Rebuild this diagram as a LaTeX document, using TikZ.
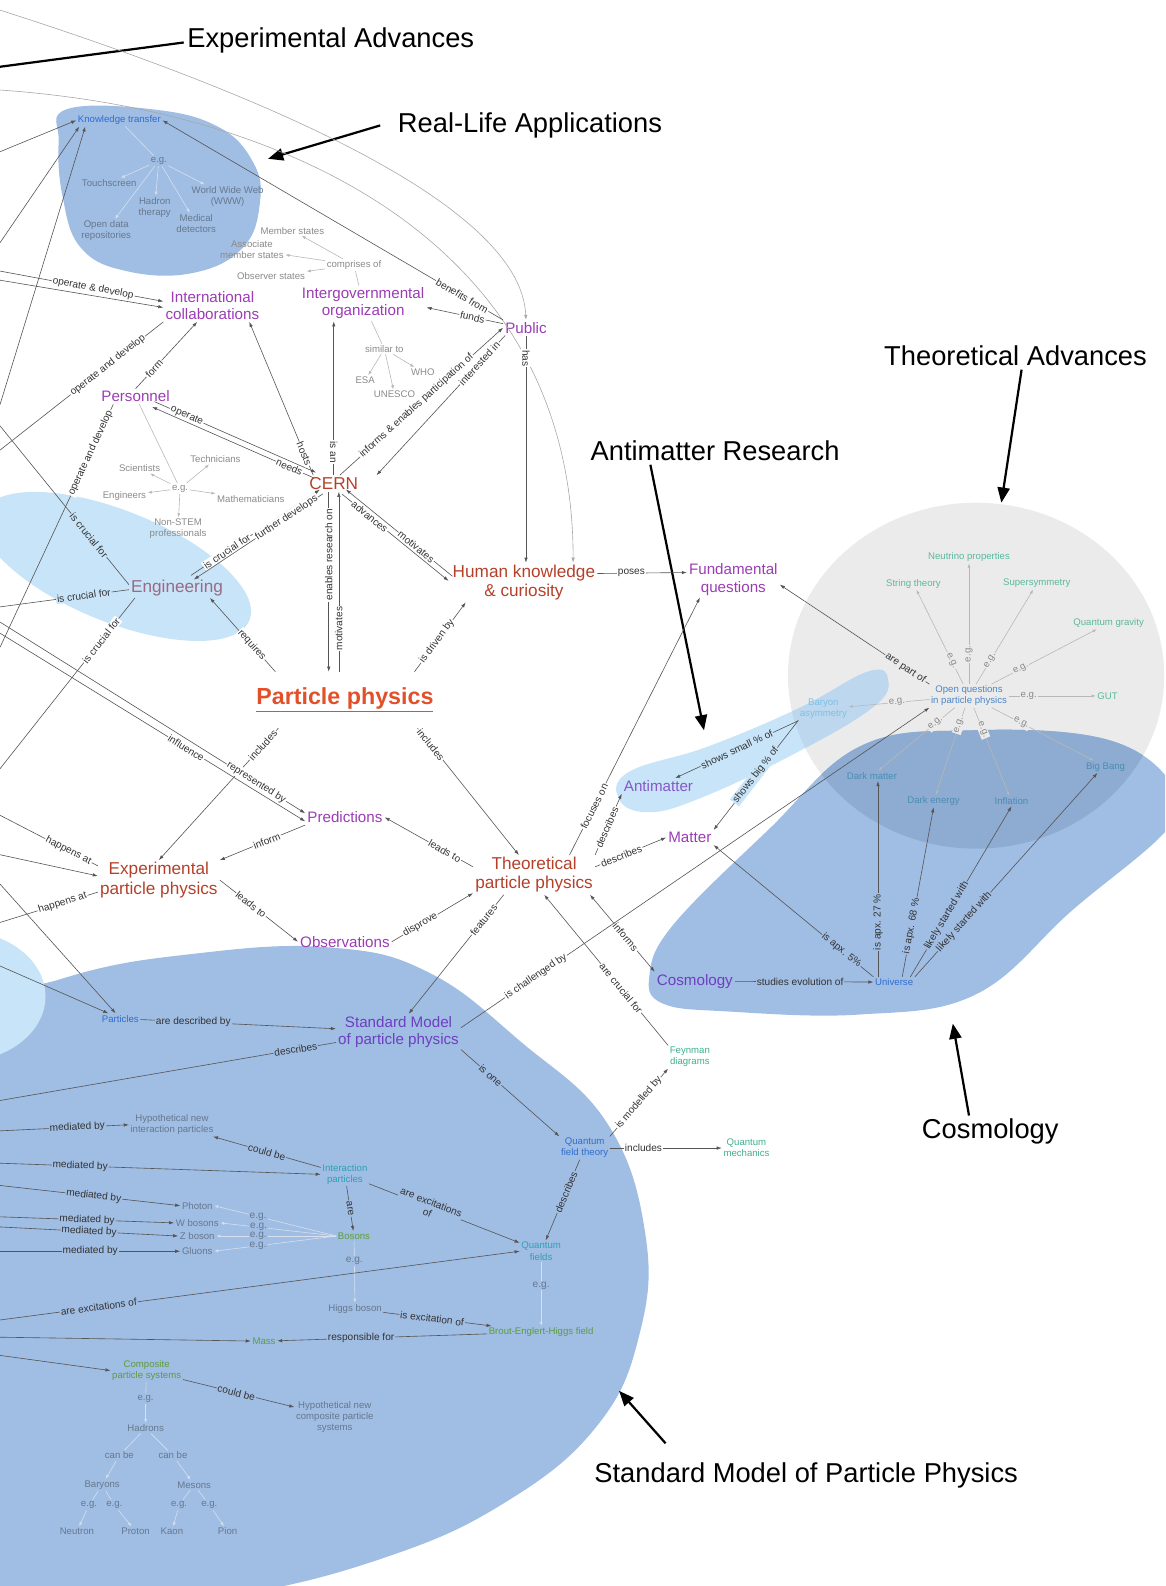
\documentclass[tikz,border=0pt]{standalone}
\usepackage{fontspec}
\setmainfont{Liberation Sans}
\usetikzlibrary{arrows.meta}

\definecolor{blobblue}{HTML}{A0BDE3}
\definecolor{blobpale}{HTML}{C8E4F8}
\definecolor{blobgray}{HTML}{EBEBEB}
\definecolor{blobover}{HTML}{8EABD1}
\definecolor{paleover}{HTML}{BDD8EE}
\definecolor{conred}{HTML}{B5402A}
\definecolor{pphys}{HTML}{E2502A}
\definecolor{conpurple}{HTML}{9B3CB4}
\definecolor{conviolet}{HTML}{6E3FC1}
\definecolor{conanti}{HTML}{8658C8}
\definecolor{conmauve}{HTML}{9A6A86}
\definecolor{conblue}{HTML}{2F6ECF}
\definecolor{conopen}{HTML}{4C86C6}
\definecolor{conteal}{HTML}{3DB08E}
\definecolor{conmint}{HTML}{5DB89E}
\definecolor{conaqua}{HTML}{2FA0B5}
\definecolor{consteel}{HTML}{4A8DB5}
\definecolor{consky}{HTML}{7DC0E6}
\definecolor{congreen}{HTML}{5E9C3F}
\definecolor{congray}{HTML}{8A8A8A}
\definecolor{congrayb}{HTML}{67788F}
\definecolor{linkgray}{HTML}{555555}
\definecolor{curvegray}{HTML}{A8A8A8}
\definecolor{egray}{HTML}{B8B8B8}
\definecolor{egrayb}{HTML}{D6E0EE}
\definecolor{labtext}{HTML}{333333}

\tikzset{
  notetext/.style={font=\fontsize{27}{30}\selectfont},
  noteline/.style={line width=2.2pt},
  notearrow/.style={noteline,-{Triangle[length=15pt,width=12pt]}},
  bigcon/.style={font=\fontsize{17}{19}\selectfont,text=conred,align=center,inner sep=2pt},
  midcon/.style={font=\fontsize{15}{17}\selectfont,text=conpurple,align=center,inner sep=2pt},
  smallcon/.style={font=\fontsize{9.5}{11}\selectfont,text=congray,align=center,inner sep=1.5pt},
  link/.style={linkgray,line width=0.6pt,-{Latex[length=5pt,width=3.4pt]}},
  duallink/.style={linkgray,line width=0.6pt,{Latex[length=5pt,width=3.4pt]}-{Latex[length=5pt,width=3.4pt]}},
  bare/.style={linkgray,line width=0.6pt},
  curvelink/.style={curvegray,line width=0.6pt,-{Latex[length=5pt,width=3.4pt]}},
  egline/.style={egray,line width=0.6pt,-{Latex[length=4pt,width=3pt]}},
  egbare/.style={egray,line width=0.6pt},
  eglineb/.style={egline,egrayb},
  egbareb/.style={egbare,egrayb},
  elab/.style={font=\fontsize{10}{11}\selectfont,text=labtext,fill=white,inner sep=1pt,align=center},
  elabb/.style={elab,fill=blobblue},
  elabp/.style={elab,fill=blobpale},
  elabg/.style={elab,fill=blobgray},
  eglab/.style={font=\fontsize{9.5}{10}\selectfont,text=congray,fill=blobgray,inner sep=1pt},
}

\begin{document}
\begin{tikzpicture}[x=1pt,y=-1pt]
\useasboundingbox (0,0) rectangle (1152,1568);
\clip (0,0) rectangle (1152,1568);

% coloured regions
\fill[blobblue] plot[smooth cycle,tension=0.7] coordinates {(-150,1300) (-80,1030) (60,968) (200,942) (330,937) (425,962) (515,1030) (600,1110) (638,1220) (632,1320) (590,1410) (500,1485) (380,1540) (220,1580) (0,1610) (-150,1560)};
\fill[blobpale] (-40,985) ellipse [x radius=85pt,y radius=65pt];
\fill[blobblue] plot[smooth cycle,tension=0.7] coordinates {(66,108) (150,108) (215,125) (250,160) (257,200) (240,245) (190,270) (125,268) (80,245) (62,195) (58,140)};
\fill[blobpale,rotate around={-22:(115,560)}] (115,560) ellipse [x radius=142pt,y radius=55pt];
\fill[blobgray] (965,668) ellipse [x radius=186pt,y radius=171pt];
\fill[blobpale] plot[smooth cycle,tension=0.7] coordinates {(612,790) (622,763) (700,738) (790,700) (858,664) (878,672) (862,700) (780,748) (690,790) (640,803)};
\fill[blobblue] plot[smooth cycle,tension=0.65] coordinates {(642,965) (665,915) (760,820) (850,738) (960,722) (1090,730) (1155,770) (1158,815) (1060,900) (965,983) (850,1003) (720,1000) (655,992)};
\begin{scope}
  \clip (965,668) ellipse [x radius=186pt,y radius=171pt];
  \fill[paleover] plot[smooth cycle,tension=0.7] coordinates {(612,790) (622,763) (700,738) (790,700) (858,664) (878,672) (862,700) (780,748) (690,790) (640,803)};
  \fill[blobover] plot[smooth cycle,tension=0.65] coordinates {(642,965) (665,915) (760,820) (850,738) (960,722) (1090,730) (1155,770) (1158,815) (1060,900) (965,983) (850,1003) (720,1000) (655,992)};
\end{scope}

% section titles
\node[notetext] (notexp) at (327,40) {Experimental Advances};
\node[notetext] (notrla) at (524,124) {Real-Life Applications};
\node[notetext] (notta) at (1004,352) {Theoretical Advances};
\node[notetext] (notar) at (707,446) {Antimatter Research};
\node[notetext] (notcos) at (979,1119) {Cosmology};
\node[notetext] (notsm) at (797,1459) {Standard Model of Particle Physics};

% concepts, upper part
\node[smallcon,text=conblue] (kt) at (118,119) {Knowledge transfer};
\node[smallcon,text=congrayb] (kteg) at (157,159) {e.g.};
\node[smallcon,text=congrayb] (touch) at (108,181) {Touchscreen};
\node[smallcon,text=congrayb] (hadth) at (153,205) {Hadron\\therapy};
\node[smallcon,text=congrayb] (www) at (225,194) {World Wide Web\\(WWW)};
\node[smallcon,text=congrayb] (opendata) at (105,228) {Open data\\repositories};
\node[smallcon,text=congrayb] (meddet) at (194,221) {Medical\\detectors};
\node[smallcon] (memb) at (289,228) {Member states};
\node[smallcon] (assoc) at (249,247) {Associate\\member states};
\node[smallcon] (comp) at (350,262) {comprises of};
\node[smallcon] (obs) at (268,273) {Observer states};
\node[midcon] (intc) at (210,302) {International\\collaborations};
\node[midcon] (igo) at (359,300) {Intergovernmental\\organization};
\node[midcon] (public) at (520,324) {Public};
\node[smallcon] (simto) at (380,345) {similar to};
\node[smallcon] (esa) at (361,376) {ESA};
\node[smallcon] (who) at (418,368) {WHO};
\node[smallcon] (unesco) at (390,390) {UNESCO};
\node[midcon] (pers) at (134,392) {Personnel};
\node[smallcon] (sci) at (138,463) {Scientists};
\node[smallcon] (tech) at (213,454) {Technicians};
\node[smallcon] (peg) at (178,483) {e.g.};
\node[smallcon] (engr) at (123,490) {Engineers};
\node[smallcon] (math) at (248,493) {Mathematicians};
\node[smallcon] (nonstem) at (176,523) {Non-STEM\\professionals};
\node[bigcon] (cern) at (330,478) {CERN};
\node[bigcon,text=conmauve] (eng) at (175,581) {Engineering};
\node[bigcon] (hk) at (518,576) {Human knowledge\\\& curiosity};
\node[midcon] (fq) at (725,573) {Fundamental\\questions};
\node[font=\bfseries\fontsize{23}{26}\selectfont,text=pphys,inner xsep=6pt,inner ysep=16pt] (pp) at (341,692) {\underline{Particle physics}};

% concepts, middle part
\node[midcon] (pred) at (341,808) {Predictions};
\node[bigcon] (exp) at (157,870) {Experimental\\particle physics};
\node[bigcon] (tpp) at (528,865) {Theoretical\\particle physics};
\node[midcon] (obsv) at (341,931) {Observations};
\node[midcon,text=conanti] (am) at (651,777) {Antimatter};
\node[midcon] (mat) at (682,828) {Matter};
\node[smallcon,text=consky] (baryon) at (814,701) {Baryon\\asymmetry};
\node[smallcon,text=conopen] (oq) at (958,688) {Open questions\\in particle physics};
\node[smallcon,text=conmint] (neu) at (958,551) {Neutrino properties};
\node[smallcon,text=conmint] (str) at (903,577) {String theory};
\node[smallcon,text=conmint] (susy) at (1025,577) {Supersymmetry};
\node[smallcon,text=conmint] (qg) at (1096,616) {Quantum gravity};
\node[smallcon,text=conmint] (gut) at (1095,688) {GUT};
\node[smallcon,text=consteel] (bb) at (1093,758) {Big Bang};
\node[smallcon,text=consteel] (infl) at (1000,792) {Inflation};
\node[smallcon,text=consteel] (de) at (923,792) {Dark energy};
\node[smallcon,text=consteel] (dm) at (862,767) {Dark matter};
\node[midcon,text=conviolet] (cos) at (687,970) {Cosmology};
\node[smallcon,text=conblue] (uni) at (884,971) {Universe};

% concepts, standard model
\node[smallcon,text=conblue] (parts) at (119,1007) {Particles};
\node[midcon,text=conviolet] (sm) at (394,1020) {Standard Model\\of particle physics};
\node[smallcon,text=conteal] (feyn) at (682,1045) {Feynman\\diagrams};
\node[smallcon,text=conblue] (qft) at (578,1135) {Quantum\\field theory};
\node[smallcon,text=conteal] (qm) at (738,1135) {Quantum\\mechanics};
\node[smallcon,text=congrayb] (hyp1) at (170,1112) {Hypothetical new\\interaction particles};
\node[smallcon,text=conaqua] (ip) at (341,1161) {Interaction\\particles};
\node[smallcon,text=congrayb] (photon) at (195,1192) {Photon};
\node[smallcon,text=congrayb] (wbos) at (195,1209) {W bosons};
\node[smallcon,text=congrayb] (zbos) at (195,1222) {Z boson};
\node[smallcon,text=congrayb] (gluons) at (195,1237) {Gluons};
\node[smallcon,text=congreen] (bosons) at (350,1222) {Bosons};
\node[smallcon,text=conaqua] (qf) at (535,1237) {Quantum\\fields};
\node[smallcon,text=congrayb] (higgs) at (351,1294) {Higgs boson};
\node[smallcon,text=congreen] (beh) at (535,1317) {Brout-Englert-Higgs field};
\node[smallcon,text=congreen] (mass) at (261,1326) {Mass};
\node[smallcon,text=congreen] (cps) at (145,1355) {Composite\\particle systems};
\node[smallcon,text=congrayb] (hyp2) at (331,1401) {Hypothetical new\\composite particle\\systems};
\node[smallcon,text=congrayb] (cpseg) at (144,1383) {e.g.};
\node[smallcon,text=congrayb] (hadrons) at (144,1412) {Hadrons};
\node[smallcon,text=congrayb] (canbea) at (118,1439) {can be};
\node[smallcon,text=congrayb] (canbeb) at (171,1439) {can be};
\node[smallcon,text=congrayb] (baryons) at (101,1468) {Baryons};
\node[smallcon,text=congrayb] (mesons) at (192,1468) {Mesons};
\node[smallcon,text=congrayb] (ega) at (88,1488) {e.g.};
\node[smallcon,text=congrayb] (egb) at (113,1488) {e.g.};
\node[smallcon,text=congrayb] (egc) at (177,1488) {e.g.};
\node[smallcon,text=congrayb] (egd) at (207,1488) {e.g.};
\node[smallcon,text=congrayb] (neutron) at (76,1514) {Neutron};
\node[smallcon,text=congrayb] (proton) at (134,1514) {Proton};
\node[smallcon,text=congrayb] (kaon) at (170,1514) {Kaon};
\node[smallcon,text=congrayb] (pion) at (225,1514) {Pion};

% free ends of links that leave the picture
\coordinate (expend) at (0,66);
\coordinate (rlatip) at (265,157);
\coordinate (tatip) at (990,497);
\coordinate (artip) at (696,722);
\coordinate (costip) at (942,1012);
\coordinate (smtip) at (612,1375);
\coordinate (topa) at (0,10);
\coordinate (topb) at (0,89);
\coordinate (ktfroma) at (0,150);
\coordinate (ktfromb) at (0,240);
\coordinate (ktfromc) at (0,400);
\coordinate (intcfroma) at (0,268);
\coordinate (intcfromb) at (0,277);
\coordinate (intcto) at (0,445);
\coordinate (persto) at (0,640);
\coordinate (engtoa) at (0,421);
\coordinate (engtob) at (0,600);
\coordinate (engtoc) at (0,760);
\coordinate (inflfrom) at (0,626);
\coordinate (reprfrom) at (0,615);
\coordinate (exptoa) at (0,806);
\coordinate (expfrom) at (0,845);
\coordinate (exptob) at (0,912);
\coordinate (partsfroma) at (0,955);
\coordinate (partsfromb) at (0,874);
\coordinate (smto) at (0,1088);
\coordinate (mbfroma) at (0,1118);
\coordinate (mbfromb) at (0,1150);
\coordinate (mbfromc) at (0,1172);
\coordinate (mbfromd) at (0,1203);
\coordinate (mbfrome) at (0,1213);
\coordinate (mbfromf) at (0,1237);
\coordinate (qffrom) at (0,1305);
\coordinate (massfrom) at (0,1322);
\coordinate (cpsfrom) at (0,1340);

% title arrows
\draw[noteline] ([yshift=-2pt]notexp.west) -- (expend);
\draw[notearrow] ([xshift=-14pt]notrla.west) -- (rlatip);
\draw[notearrow] ([xshift=6pt]notta.south) -- (tatip);
\draw[notearrow] ([xshift=-64pt]notar.south) -- (artip);
\draw[notearrow] ([xshift=-21pt]notcos.north) -- (costip);
\draw[notearrow] ([xshift=-139pt,yshift=16pt]notsm.north) -- (smtip);

% upper links
\draw[curvelink] (topa) .. controls (250,90) and (515,200) .. (public.north);
\draw[curvelink] (topb) .. controls (300,110) and (567,250) .. ([xshift=-24pt]hk.north east);
\draw[link] (ktfroma) -- (kt.west);
\draw[link] (ktfromb) -- ([xshift=3pt]kt.south west);
\draw[link] (ktfromc) -- ([xshift=9pt]kt.south west);
\draw[egbareb] (kt) -- (kteg);
\foreach \leaf in {touch,hadth,www,opendata,meddet} \draw[eglineb] (kteg) -- (\leaf);
\draw[egbare] (igo) -- (comp);
\foreach \leaf in {memb,assoc,obs} \draw[egline] (comp) -- (\leaf);
\draw[egbare] (igo) -- (simto);
\foreach \leaf in {esa,who,unesco} \draw[egline] (simto) -- (\leaf);
\draw[egbare] (pers) -- (peg);
\foreach \leaf in {sci,tech,engr,math,nonstem} \draw[egline] (peg) -- (\leaf);

\draw[link] (intcfroma) -- node[elab,sloped,pos=.57]{operate \& develop} ([yshift=4pt]intc.west);
\draw[link] (intcfromb) -- ([yshift=-2pt]intc.west);
\draw[bare] (intc.south west) -- node[elab,sloped,pos=.34]{operate and develop} (intcto);
\draw[link] (pers.north) -- node[elab,sloped,pos=.3]{form} ([xshift=-15pt]intc.south);
\draw[bare] ([xshift=14pt]pers.south west) -- node[elab,sloped,pos=.2]{operate and develop} (persto);
\draw[link] (public.north west) -- node[elab,sloped,pos=.12]{benefits from} (kt.east);
\draw[link] ([yshift=4pt]public.west) -- node[elab,sloped,pos=.4]{funds} ([yshift=-4pt]igo.east);
\draw[link] (public.south) -- node[elab,rotate=-90,pos=.1]{has} (public.south |- hk.north);

% links around CERN
\draw[link,transform canvas={shift={(1.2pt,2.6pt)}}] (pers) -- node[elab,sloped,pos=.2]{operate} (cern);
\draw[link,transform canvas={shift={(-1.2pt,-2.6pt)}}] (cern) -- node[elab,sloped,pos=.15]{needs} (pers);
\draw[link] ([xshift=6pt]cern.north west) -- node[elab,sloped,pos=.14]{hosts} ([xshift=-12pt]intc.south east);
\draw[link] (cern.north) -- node[elab,rotate=-90,pos=.15]{is an} (cern.north |- igo.south);
\draw[link] ([xshift=6pt]cern.north) -- node[elab,sloped,pos=.47]{informs \& enables participation of} (public.west);
\draw[link] ([xshift=2pt]public.south west) -- node[elab,sloped,pos=.2]{interested in} ([xshift=16pt]cern.north east);
\draw[link,transform canvas={shift={(-1.4pt,2.1pt)}}] (eng) -- node[elab,sloped,pos=.28]{is crucial for} (cern);
\draw[link,transform canvas={shift={(1.4pt,-2.1pt)}}] (cern) -- node[elab,sloped,pos=.28]{further develops} (eng);
\draw[link,transform canvas={shift={(-1.9pt,-2.3pt)}}] (cern) -- node[elab,sloped,pos=.26]{advances} ([yshift=4pt]hk.west);
\draw[link,transform canvas={shift={(1.9pt,2.3pt)}}] ([yshift=4pt]hk.west) -- node[elab,sloped,pos=.34]{motivates} (cern);
\draw[link] ([xshift=-5pt]cern.south) -- node[elab,rotate=90,pos=.35]{enables research on} ([xshift=-5pt]cern.south |- pp.north);
\draw[link] ([xshift=5pt]cern.south |- pp.north) -- node[elab,rotate=90,pos=.24]{motivates} ([xshift=5pt]cern.south);
\draw[bare] ([yshift=3pt]eng.west) -- node[elabp,sloped,pos=.31]{is crucial for} (engtoa);
\draw[bare] ([yshift=-2pt]eng.west) -- node[elabp,sloped,pos=.35]{is crucial for} (engtob);
\draw[bare] ([xshift=6pt]eng.south west) -- node[elab,sloped,pos=.25]{is crucial for} (engtoc);
\draw[link] ([yshift=9pt]hk.east) -- node[elab,pos=.38]{poses} ([yshift=7pt]fq.west);

% links around particle physics
\draw[link] ([xshift=25pt]pp.north west) -- node[elab,sloped,pos=.36]{requires} ([xshift=-15pt]eng.south east);
\draw[link] ([xshift=-25pt]pp.north east) -- node[elab,sloped,pos=.44]{is driven by} ([xshift=15pt]hk.south west);
\draw[link] ([xshift=28pt]pp.south west) -- node[elab,sloped,pos=.13]{includes} (exp.north);
\draw[link] ([xshift=-22pt]pp.south east) -- node[elab,sloped,pos=.13]{includes} ([xshift=-15pt]tpp.north);
\draw[link] (inflfrom) -- node[elab,sloped,pos=.61]{influence} ([yshift=-4pt]pred.west);
\draw[link] (reprfrom) -- node[elab,sloped,pos=.84]{represented by} ([yshift=4pt]pred.west);
\draw[link] (pred.south west) -- node[elab,sloped,pos=.45]{inform} (exp.north east);
\draw[link] ([yshift=8pt]tpp.west) -- node[elab,sloped,pos=.32]{leads to} (pred.east);
\draw[bare] ([yshift=14pt]exp.west) -- node[elab,sloped,pos=.3]{happens at} (exptoa);
\draw[link] (expfrom) -- ([yshift=4pt]exp.west);
\draw[bare] ([yshift=-12pt]exp.west) -- node[elab,sloped,pos=.36]{happens at} (exptob);
\draw[link] (exp.east) -- node[elab,sloped,pos=.4]{leads to} (obsv.west);
\draw[link] (obsv.east) -- node[elab,sloped,pos=.35]{disprove} ([yshift=-18pt]tpp.west);
\draw[link] ([xshift=-30pt]tpp.south) -- node[elab,sloped,pos=.21]{features} ([xshift=10pt]sm.north);
\draw[link] ([xshift=35pt]tpp.north) -- node[elab,sloped,pos=.19]{focuses on} ([xshift=-33pt]fq.south);
\draw[link] (tpp.north east) -- node[elab,sloped,pos=.45]{describes} (am.south west);
\draw[link] ([yshift=8pt]tpp.east) -- node[elab,sloped,pos=.37]{describes} (mat.west);
\draw[duallink] ([xshift=-5pt]tpp.south east) -- node[elab,sloped,pos=.55]{informs} (cos.north west);
\draw[link] (feyn.north west) -- node[elab,sloped,pos=.38]{are crucial for} ([xshift=10pt]tpp.south);

% antimatter, open questions, cosmology
\draw[link] (baryon) -- node[elabp,sloped,pos=.5]{shows small \% of} (am);
\draw[link] (baryon.south west) -- node[elabp,sloped,pos=.5]{shows big \% of} (mat.north east);
\draw[egline] (oq) -- node[eglab,sloped,pos=.4]{e.g.} (baryon);
\draw[link] (oq.north west) -- node[elabg,sloped,pos=.16]{are part of} ([yshift=-5pt]fq.east);
\foreach \leaf/\where in {neu/.25,str/.25,susy/.25,qg/.28,gut/.23,bb/.29,infl/.25,de/.2,dm/.25}
  \draw[egline] (oq) -- node[eglab,sloped,pos=\where]{e.g.} (\leaf);
\draw[link] (cos) -- node[elabb,pos=.47]{studies evolution of} (uni);
\draw[link] ([xshift=-16pt]uni.north) -- node[elabb,rotate=90,pos=.28]{is apx. 27 \%} ([xshift=-16pt]uni.north |- dm.south);
\draw[link] ([xshift=8pt]uni.north) -- node[elabb,sloped,pos=.3]{is apx. 68 \%} (de.south);
\draw[link] (uni.north east) -- node[elabb,sloped,pos=.27]{likely started with} ([xshift=-8pt]bb.south);
\draw[link] ([xshift=16pt]uni.north) -- node[elabb,sloped,pos=.36]{likely started with} (infl.south);
\draw[link] (uni.north west) -- node[elabb,sloped,pos=.2]{is apx. 5\%} (mat.south east);

% standard model links
\draw[link] ([yshift=4pt]sm.east) -- node[elab,sloped,pos=.16]{is challenged by} (oq.south west);
\draw[link] (partsfroma) -- (parts);
\draw[link] (partsfromb) -- (parts);
\draw[link] (parts) -- node[elabb,pos=.27]{are described by} (sm);
\draw[bare] (sm) -- node[elabb,sloped,pos=.12]{describes} (smto);
\draw[link] (sm.south east) -- node[elabb,sloped,pos=.3]{is one} (qft.north west);
\draw[link] (qft.north east) -- node[elab,sloped,pos=.5]{is modelled by} (feyn.south west);
\draw[link] (qft) -- node[elab,pos=.3]{includes} (qm);
\draw[link] (qft) -- node[elabb,sloped,pos=.4]{describes} (qf);
\draw[link] (mbfroma) -- node[elabb,sloped,pos=.6]{mediated by} (hyp1.west);
\draw[link] (ip) -- node[elabb,sloped,pos=.5]{could be} (hyp1);
\draw[link] (mbfromb) -- node[elabb,sloped,pos=.25]{mediated by} (ip.west);
\draw[link] (mbfromc) -- node[elabb,sloped,pos=.52]{mediated by} (photon.west);
\draw[link] (mbfromd) -- node[elabb,sloped,pos=.5]{mediated by} (wbos.west);
\draw[link] (mbfrome) -- node[elabb,sloped,pos=.5]{mediated by} (zbos.west);
\draw[link] (mbfromf) -- node[elabb,sloped,pos=.5]{mediated by} (gluons.west);
\draw[link] (ip) -- node[elabb,sloped,pos=.4]{are excitations\\of} (qf);
\draw[link] (ip) -- node[elabb,sloped,pos=.5]{are} (bosons);
\foreach \leaf/\where in {photon/.64,wbos/.67,zbos/.65,gluons/.64}
  \draw[eglineb] (bosons.west) -- node[elabb,text=congrayb,pos=\where]{e.g.} (\leaf.east);
\draw[eglineb] (bosons) -- node[elabb,text=congrayb,pos=.32]{e.g.} (higgs);
\draw[link] (higgs) -- node[elabb,sloped,pos=.45]{is excitation of} (beh);
\draw[eglineb] (qf) -- node[elabb,text=congrayb,pos=.37]{e.g.} (beh);
\draw[link] (beh) -- node[elabb,pos=.6]{responsible for} (mass);
\draw[link] (massfrom) -- (mass);
\draw[link] (qffrom) -- node[elabb,sloped,pos=.19]{are excitations of} (qf.west);
\draw[link] (cpsfrom) -- (cps.west);
\draw[link] (cps) -- node[elabb,sloped,pos=.48]{could be} (hyp2);
\draw[egbareb] (cps) -- (cpseg);
\draw[eglineb] (cpseg) -- (hadrons);
\draw[egbareb] (hadrons) -- (canbea);
\draw[eglineb] (canbea) -- (baryons);
\draw[egbareb] (hadrons) -- (canbeb);
\draw[eglineb] (canbeb) -- (mesons);
\draw[egbareb] (baryons) -- (ega);
\draw[eglineb] (ega) -- (neutron);
\draw[egbareb] (baryons) -- (egb);
\draw[eglineb] (egb) -- (proton);
\draw[egbareb] (mesons) -- (egc);
\draw[eglineb] (egc) -- (kaon);
\draw[egbareb] (mesons) -- (egd);
\draw[eglineb] (egd) -- (pion);
\end{tikzpicture}
\end{document}
